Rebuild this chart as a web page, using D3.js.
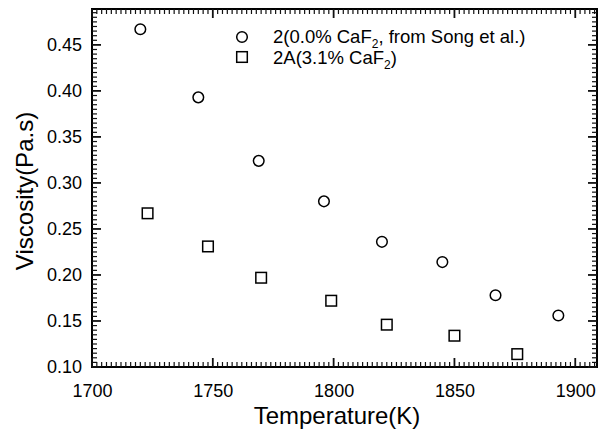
<!DOCTYPE html>
<html lang="en">
<head>
<meta charset="UTF-8">
<title>Viscosity vs Temperature</title>
<script src="https://cdn.jsdelivr.net/npm/d3@7"></script>
<style>
    body { margin: 0; background: #fff; }
    svg { display: block; font-family: Arial, "Liberation Sans", sans-serif; }
</style>
</head>
<body>
<script>
    // series 2 (circles) and 2A (squares)
    var tempSong = [1720, 1744, 1769, 1796, 1820, 1845, 1867, 1893];
    var viscSong = [0.467, 0.393, 0.324, 0.280, 0.236, 0.214, 0.178, 0.156];
    var temp2A = [1723, 1748, 1770, 1799, 1822, 1850, 1876];
    var visc2A = [0.267, 0.231, 0.197, 0.172, 0.146, 0.134, 0.114];
    var xTicks = [1700, 1750, 1800, 1850, 1900];
    var yTicks = [0.10, 0.15, 0.20, 0.25, 0.30, 0.35, 0.40, 0.45];

    var W = 606, H = 432;
    var mLeft = 92, mRight = 597, mTop = 9, mBottom = 367;

    var svg = d3.select("body").append("svg")
        .attr("width", W)
        .attr("height", H);

    var x = d3.scaleLinear().domain([1700, 1909]).range([mLeft, mRight]);
    var y = d3.scaleLinear().domain([0.10, 0.489]).range([mBottom, mTop]);

    var xMinor = d3.range(1702, 1909, 2).filter(function (v) { return v % 50 !== 0; });
    var yMinor = d3.range(1, 78).map(function (i) { return 0.10 + i * 0.005; })
        .filter(function (v) { return v <= 0.489 && Math.round(v * 1000) % 50 !== 0; });

    // frame
    svg.append("rect")
        .attr("x", mLeft).attr("y", mTop)
        .attr("width", mRight - mLeft).attr("height", mBottom - mTop)
        .attr("fill", "none").attr("stroke", "#000").attr("stroke-width", 2);

    // tick labels from d3 axes
    var gx = svg.append("g").attr("transform", "translate(0," + mBottom + ")")
        .call(d3.axisBottom(x).tickValues(xTicks).tickSize(0).tickPadding(17).tickFormat(d3.format("d")));
    var gy = svg.append("g").attr("transform", "translate(" + mLeft + ",0)")
        .call(d3.axisLeft(y).tickValues(yTicks).tickSize(0).tickPadding(10).tickFormat(d3.format(".2f")));
    [gx, gy].forEach(function (g) {
        g.select(".domain").remove();
        g.selectAll(".tick line").remove();
        g.selectAll(".tick text").attr("font-size", 18).attr("fill", "#000")
            .attr("font-family", "Arial, 'Liberation Sans', sans-serif");
    });

    // tick marks, inward on all four sides
    var tickG = svg.append("g").attr("stroke", "#111");
    function xMarks(vals, len, w) {
        [[mBottom, -1], [mTop, 1]].forEach(function (s) {
            tickG.append("g").selectAll("line").data(vals).enter().append("line")
                .attr("x1", function (d) { return x(d); }).attr("x2", function (d) { return x(d); })
                .attr("y1", s[0]).attr("y2", s[0] + s[1] * len)
                .attr("stroke-width", w);
        });
    }
    function yMarks(vals, len, w) {
        [[mLeft, 1], [mRight, -1]].forEach(function (s) {
            tickG.append("g").selectAll("line").data(vals).enter().append("line")
                .attr("y1", function (d) { return y(d); }).attr("y2", function (d) { return y(d); })
                .attr("x1", s[0]).attr("x2", s[0] + s[1] * len)
                .attr("stroke-width", w);
        });
    }
    xMarks(xTicks, 9, 1.8);
    xMarks(xMinor, 5, 1.2);
    yMarks(yTicks, 9, 1.8);
    yMarks(yMinor, 5, 1.2);

    // points
    svg.append("g").selectAll("circle")
        .data(d3.zip(tempSong, viscSong))
        .enter().append("circle")
        .attr("cx", function (d) { return x(d[0]); })
        .attr("cy", function (d) { return y(d[1]); })
        .attr("r", 5.3)
        .attr("fill", "none").attr("stroke", "#000").attr("stroke-width", 1.5);

    svg.append("g").selectAll("rect")
        .data(d3.zip(temp2A, visc2A))
        .enter().append("rect")
        .attr("x", function (d) { return x(d[0]) - 5.3; })
        .attr("y", function (d) { return y(d[1]) - 5.3; })
        .attr("width", 10.6).attr("height", 10.6)
        .attr("fill", "none").attr("stroke", "#000").attr("stroke-width", 1.5);

    // legend
    var lg = svg.append("g").attr("font-size", 18.5);
    lg.append("circle").attr("cx", 242).attr("cy", 37).attr("r", 5.3)
        .attr("fill", "none").attr("stroke", "#000").attr("stroke-width", 1.5);
    var t1 = lg.append("text").attr("x", 273).attr("y", 43);
    t1.append("tspan").text("2(0.0% CaF");
    t1.append("tspan").attr("font-size", 12).attr("dy", 5).text("2");
    t1.append("tspan").attr("dy", -5).text(", from Song et al.)");
    lg.append("rect").attr("x", 236.7).attr("y", 51.7).attr("width", 10.6).attr("height", 10.6)
        .attr("fill", "none").attr("stroke", "#000").attr("stroke-width", 1.5);
    var t2 = lg.append("text").attr("x", 273).attr("y", 64);
    t2.append("tspan").text("2A(3.1% CaF");
    t2.append("tspan").attr("font-size", 12).attr("dy", 5).text("2");
    t2.append("tspan").attr("dy", -5).text(")");

    // axis titles
    svg.append("text")
        .attr("x", 337).attr("y", 424)
        .attr("text-anchor", "middle").attr("font-size", 24)
        .text("Temperature(K)");
    svg.append("text")
        .attr("transform", "translate(33,191) rotate(-90)")
        .attr("text-anchor", "middle").attr("font-size", 24)
        .text("Viscosity(Pa.s)");
</script>
</body>
</html>
